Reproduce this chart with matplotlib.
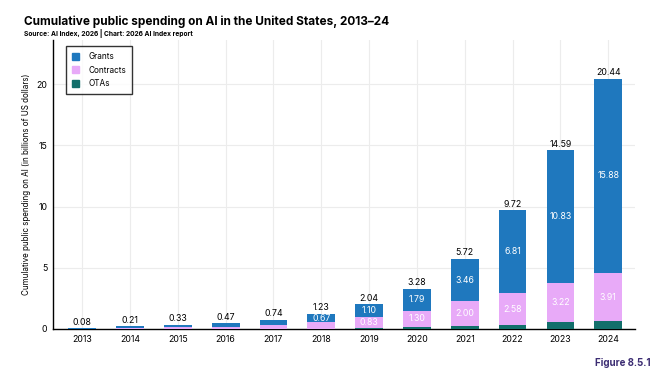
import numpy as np
import matplotlib.pyplot as plt
from matplotlib.patches import Patch

plt.rcParams['font.family'] = ['Inter', 'DejaVu Sans']

years = ['2013', '2014', '2015', '2016', '2017', '2018',
         '2019', '2020', '2021', '2022', '2023', '2024']
otas = [0.0, 0.0, 0.0, 0.0, 0.0, 0.03, 0.11, 0.19, 0.26, 0.33, 0.54, 0.65]
contracts = [0.02, 0.06, 0.18, 0.19, 0.33, 0.53, 0.83, 1.30, 2.00, 2.58, 3.22, 3.91]
grants = [0.06, 0.15, 0.15, 0.28, 0.41, 0.67, 1.10, 1.79, 3.46, 6.81, 10.83, 15.88]
totals = [0.08, 0.21, 0.33, 0.47, 0.74, 1.23, 2.04, 3.28, 5.72, 9.72, 14.59, 20.44]

c_grants = '#1f78be'
c_contracts = '#e8aaf8'
c_otas = '#136f6b'

fig = plt.figure(figsize=(6.61, 3.82), dpi=100)
ax = fig.add_axes([53 / 661, 1 - 329 / 382, (635 - 53) / 661, (329 - 40) / 382])

x = np.arange(len(years))
w = 0.58
ax.bar(x, otas, w, color=c_otas, zorder=3)
ax.bar(x, contracts, w, bottom=otas, color=c_contracts, zorder=3)
bottom2 = np.array(otas) + np.array(contracts)
ax.bar(x, grants, w, bottom=bottom2, color=c_grants, zorder=3)

# segment labels where the segment is tall enough
for i in range(len(years)):
    if contracts[i] >= 0.6:
        ax.text(x[i], otas[i] + contracts[i] / 2, f'{contracts[i]:.2f}', ha='center', va='center',
                color='white', fontsize=6.3, zorder=4)
    if grants[i] >= 0.6:
        ax.text(x[i], bottom2[i] + grants[i] / 2, f'{grants[i]:.2f}', ha='center', va='center',
                color='white', fontsize=6.3, zorder=4)
    ax.text(x[i], totals[i] + 0.12, f'{totals[i]:.2f}', ha='center', va='bottom',
            color='black', fontsize=6.3, zorder=4)

ax.set_xlim(-0.61, 11.56)
ax.set_ylim(0, 23.6)
ax.set_xticks(x)
ax.set_xticklabels(years)
ax.set_yticks([0, 5, 10, 15, 20])
ax.tick_params(axis='both', length=0, labelsize=6.3, pad=4)
ax.grid(True, color='#ececec', linewidth=0.8, zorder=0)
ax.set_axisbelow(True)
for s in ['top', 'right']:
    ax.spines[s].set_visible(False)
ax.spines['left'].set_linewidth(1.0)
ax.spines['bottom'].set_linewidth(1.0)
ax.set_ylabel('Cumulative public spending on AI (in billions of US dollars)', fontsize=5.8, labelpad=4)

handles = [Patch(color=c_grants, label='Grants'),
           Patch(color=c_contracts, label='Contracts'),
           Patch(color=c_otas, label='OTAs')]
leg = ax.legend(handles=handles, loc='upper left', bbox_to_anchor=(0.022, 0.979), fontsize=5.9,
                frameon=True, fancybox=False, edgecolor='black', handlelength=0.9, handleheight=0.9,
                handletextpad=1.1, labelspacing=0.55, borderpad=0.75, borderaxespad=0)
leg.get_frame().set_linewidth(1.0)

fig.text(24 / 661, 1 - 22 / 382, 'Cumulative public spending on AI in the United States, 2013–24',
         fontsize=8.5, fontweight='bold', va='center', ha='left')
fig.text(24 / 661, 1 - 34 / 382, 'Source: AI Index, 2026 | Chart: 2026 AI Index report',
         fontsize=4.8, fontweight='bold', va='center', ha='left')
fig.text(651 / 661, 1 - 363 / 382, 'Figure 8.5.1', fontsize=7, fontweight='bold',
         color='#3c2d73', va='center', ha='right')

plt.savefig('out.png', dpi=100)
